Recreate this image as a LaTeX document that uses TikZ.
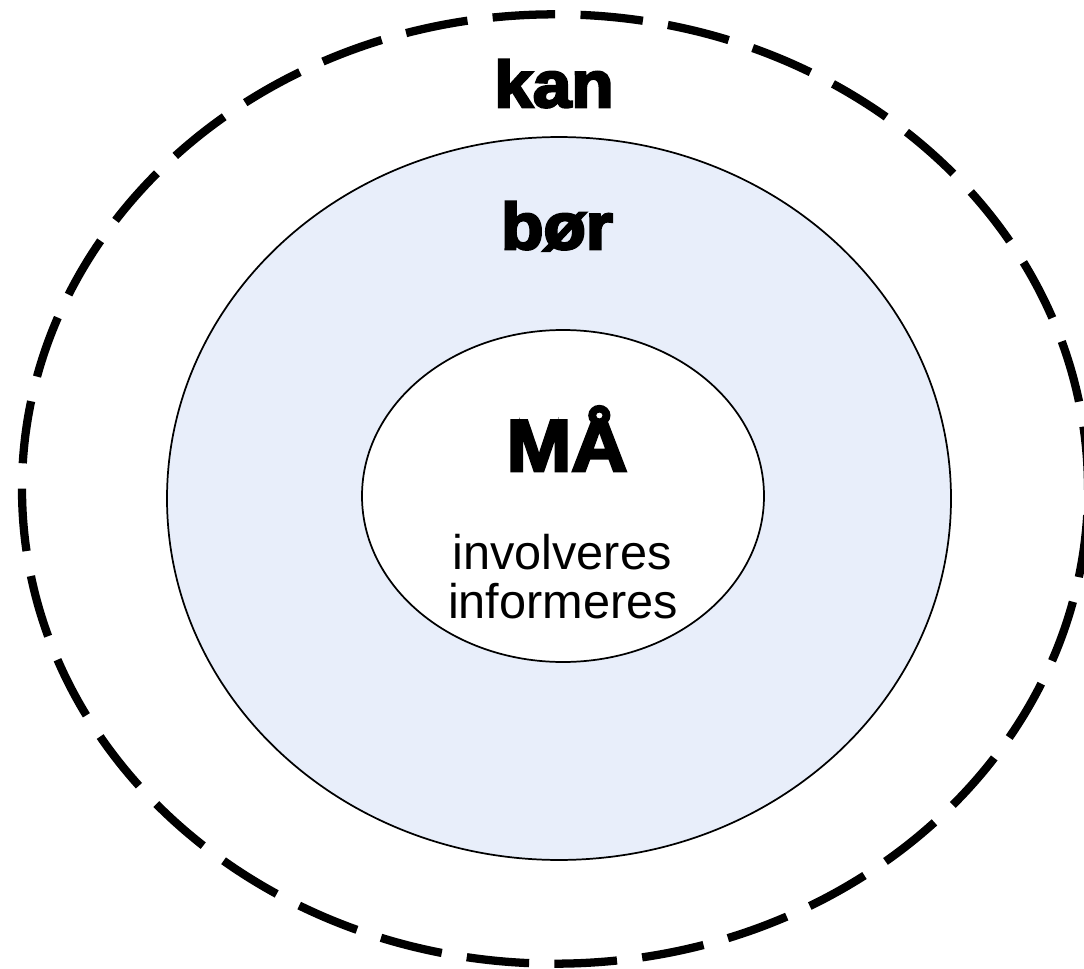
\documentclass[tikz,border=0pt]{standalone}
\usepackage{fontspec}
\setmainfont{Liberation Sans}
\newfontfamily\heavyfont[FakeBold=4,FakeStretch=1.06]{Liberation Sans Bold}
\definecolor{midfill}{HTML}{E8EEFA}
\begin{document}
\begin{tikzpicture}[x=0.75pt,y=-0.75pt,
  outerring/.style={draw=black,line width=6.2pt,dash pattern=on 47pt off 19pt},
  ring/.style={draw=black,line width=1.3pt},
  heavy/.style={anchor=base,inner sep=0pt,font=\heavyfont\fontsize{49pt}{55pt}\selectfont},
  plain/.style={anchor=base,inner sep=0pt,font=\fontsize{36.5pt}{40pt}\selectfont}]
\useasboundingbox (0,0) rectangle (1084,969);
\path[outerring] (555,489) ellipse [x radius=399.75pt, y radius=356pt];
\path[ring,fill=midfill] (559,498.5) ellipse [x radius=294pt, y radius=271.1pt];
\path[ring,fill=white] (563,496) ellipse [x radius=150.75pt, y radius=124.5pt];
\node[heavy] (kan) at (554,107) {kan};
\node[heavy] (bor) at (557,249) {bør};
\node[heavy,font=\heavyfont\fontsize{55pt}{60pt}\selectfont] (ma) at (567,471) {MÅ};
\node[plain] (inv) at (562,569) {involveres};
\node[plain] (inf) at (563,618) {informeres};
\end{tikzpicture}
\end{document}
